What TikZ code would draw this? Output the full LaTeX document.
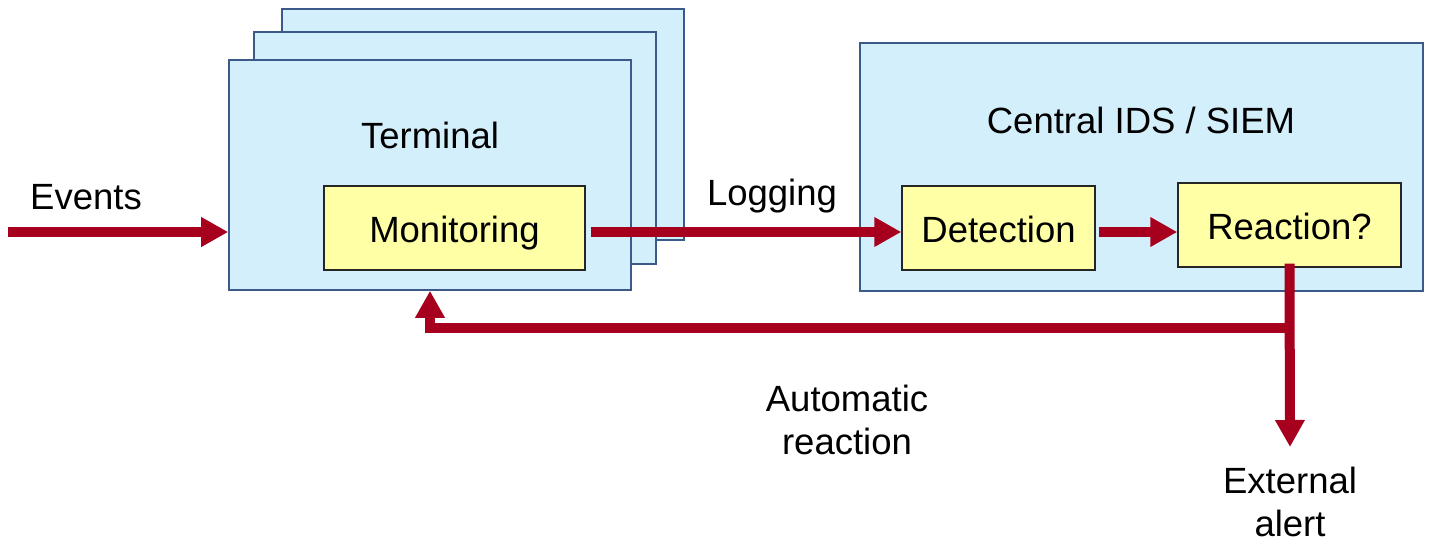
\documentclass[tikz,border=0pt]{standalone}
\usepackage{fontspec}
\setmainfont{Liberation Sans}
\usetikzlibrary{arrows.meta}
\definecolor{boxblue}{HTML}{D4EFFC}
\definecolor{edgeblue}{HTML}{3B5A8A}
\definecolor{boxyellow}{HTML}{FFFFA6}
\definecolor{arrred}{HTML}{A6001E}
\tikzset{
  bluebox/.style={draw=edgeblue, line width=1.6pt, fill=boxblue, rectangle, inner sep=0pt},
  yelbox/.style={draw=black!85, line width=1.4pt, fill=boxyellow, rectangle, inner sep=0pt,
    minimum height=84pt, text height=28pt, text depth=0pt, font=\fontsize{36.5}{43}\selectfont},
  lbl/.style={font=\fontsize{36.5}{43}\selectfont, align=center, inner sep=0pt},
  arr/.style={draw=arrred, line width=10pt, -{Triangle[width=28pt,length=27pt]}}
}
\begin{document}
\begin{tikzpicture}[x=1pt,y=-1pt]
\useasboundingbox (0,0) rectangle (1432,542);
% stacked terminal boxes
\node[bluebox, minimum width=402pt, minimum height=231pt] (back) at (483,124.5) {};
\node[bluebox, minimum width=402pt, minimum height=232pt] (mid) at (455,148) {};
\node[bluebox, minimum width=402pt, minimum height=230pt] (front) at (430,175) {};
\node[lbl] (term) at (430,135) {Terminal};
\node[yelbox, minimum width=261pt] (mon) at (454.5,228) {Monitoring};
% central
\node[bluebox, minimum width=563pt, minimum height=248pt] (central) at (1141.5,167) {};
\node[lbl] (ctitle) at (1141,120) {Central IDS / SIEM};
\node[yelbox, minimum width=193pt] (det) at (998.5,228) {Detection};
\node[yelbox, minimum width=223pt] (reac) at (1289.5,225) {Reaction?};
% labels
\node[lbl] (events) at (86,197) {Events};
\node[lbl] (logging) at (772,196) {Logging};
\node[lbl] (auto) at (847,420) {Automatic\\reaction};
\node[lbl] (ext) at (1290,502) {External\\alert};
% coordinates
\coordinate (evstart) at (8,232);
\coordinate (junc) at (1290,328);
\coordinate (alertTip) at (1290,447);
% connectors
\draw[arr] (evstart) -- (evstart -| front.west);
\draw[arr] ([xshift=5pt,yshift=-4pt]mon.east) -- ([yshift=-4pt]det.west);
\draw[arr] ([xshift=3pt,yshift=-4pt]det.east) -- ([yshift=-7pt]reac.west);
\draw[arr] ([yshift=4pt]reac.south) -- (alertTip);
\draw[arr] (junc) -| (front.south);
\end{tikzpicture}
\end{document}
